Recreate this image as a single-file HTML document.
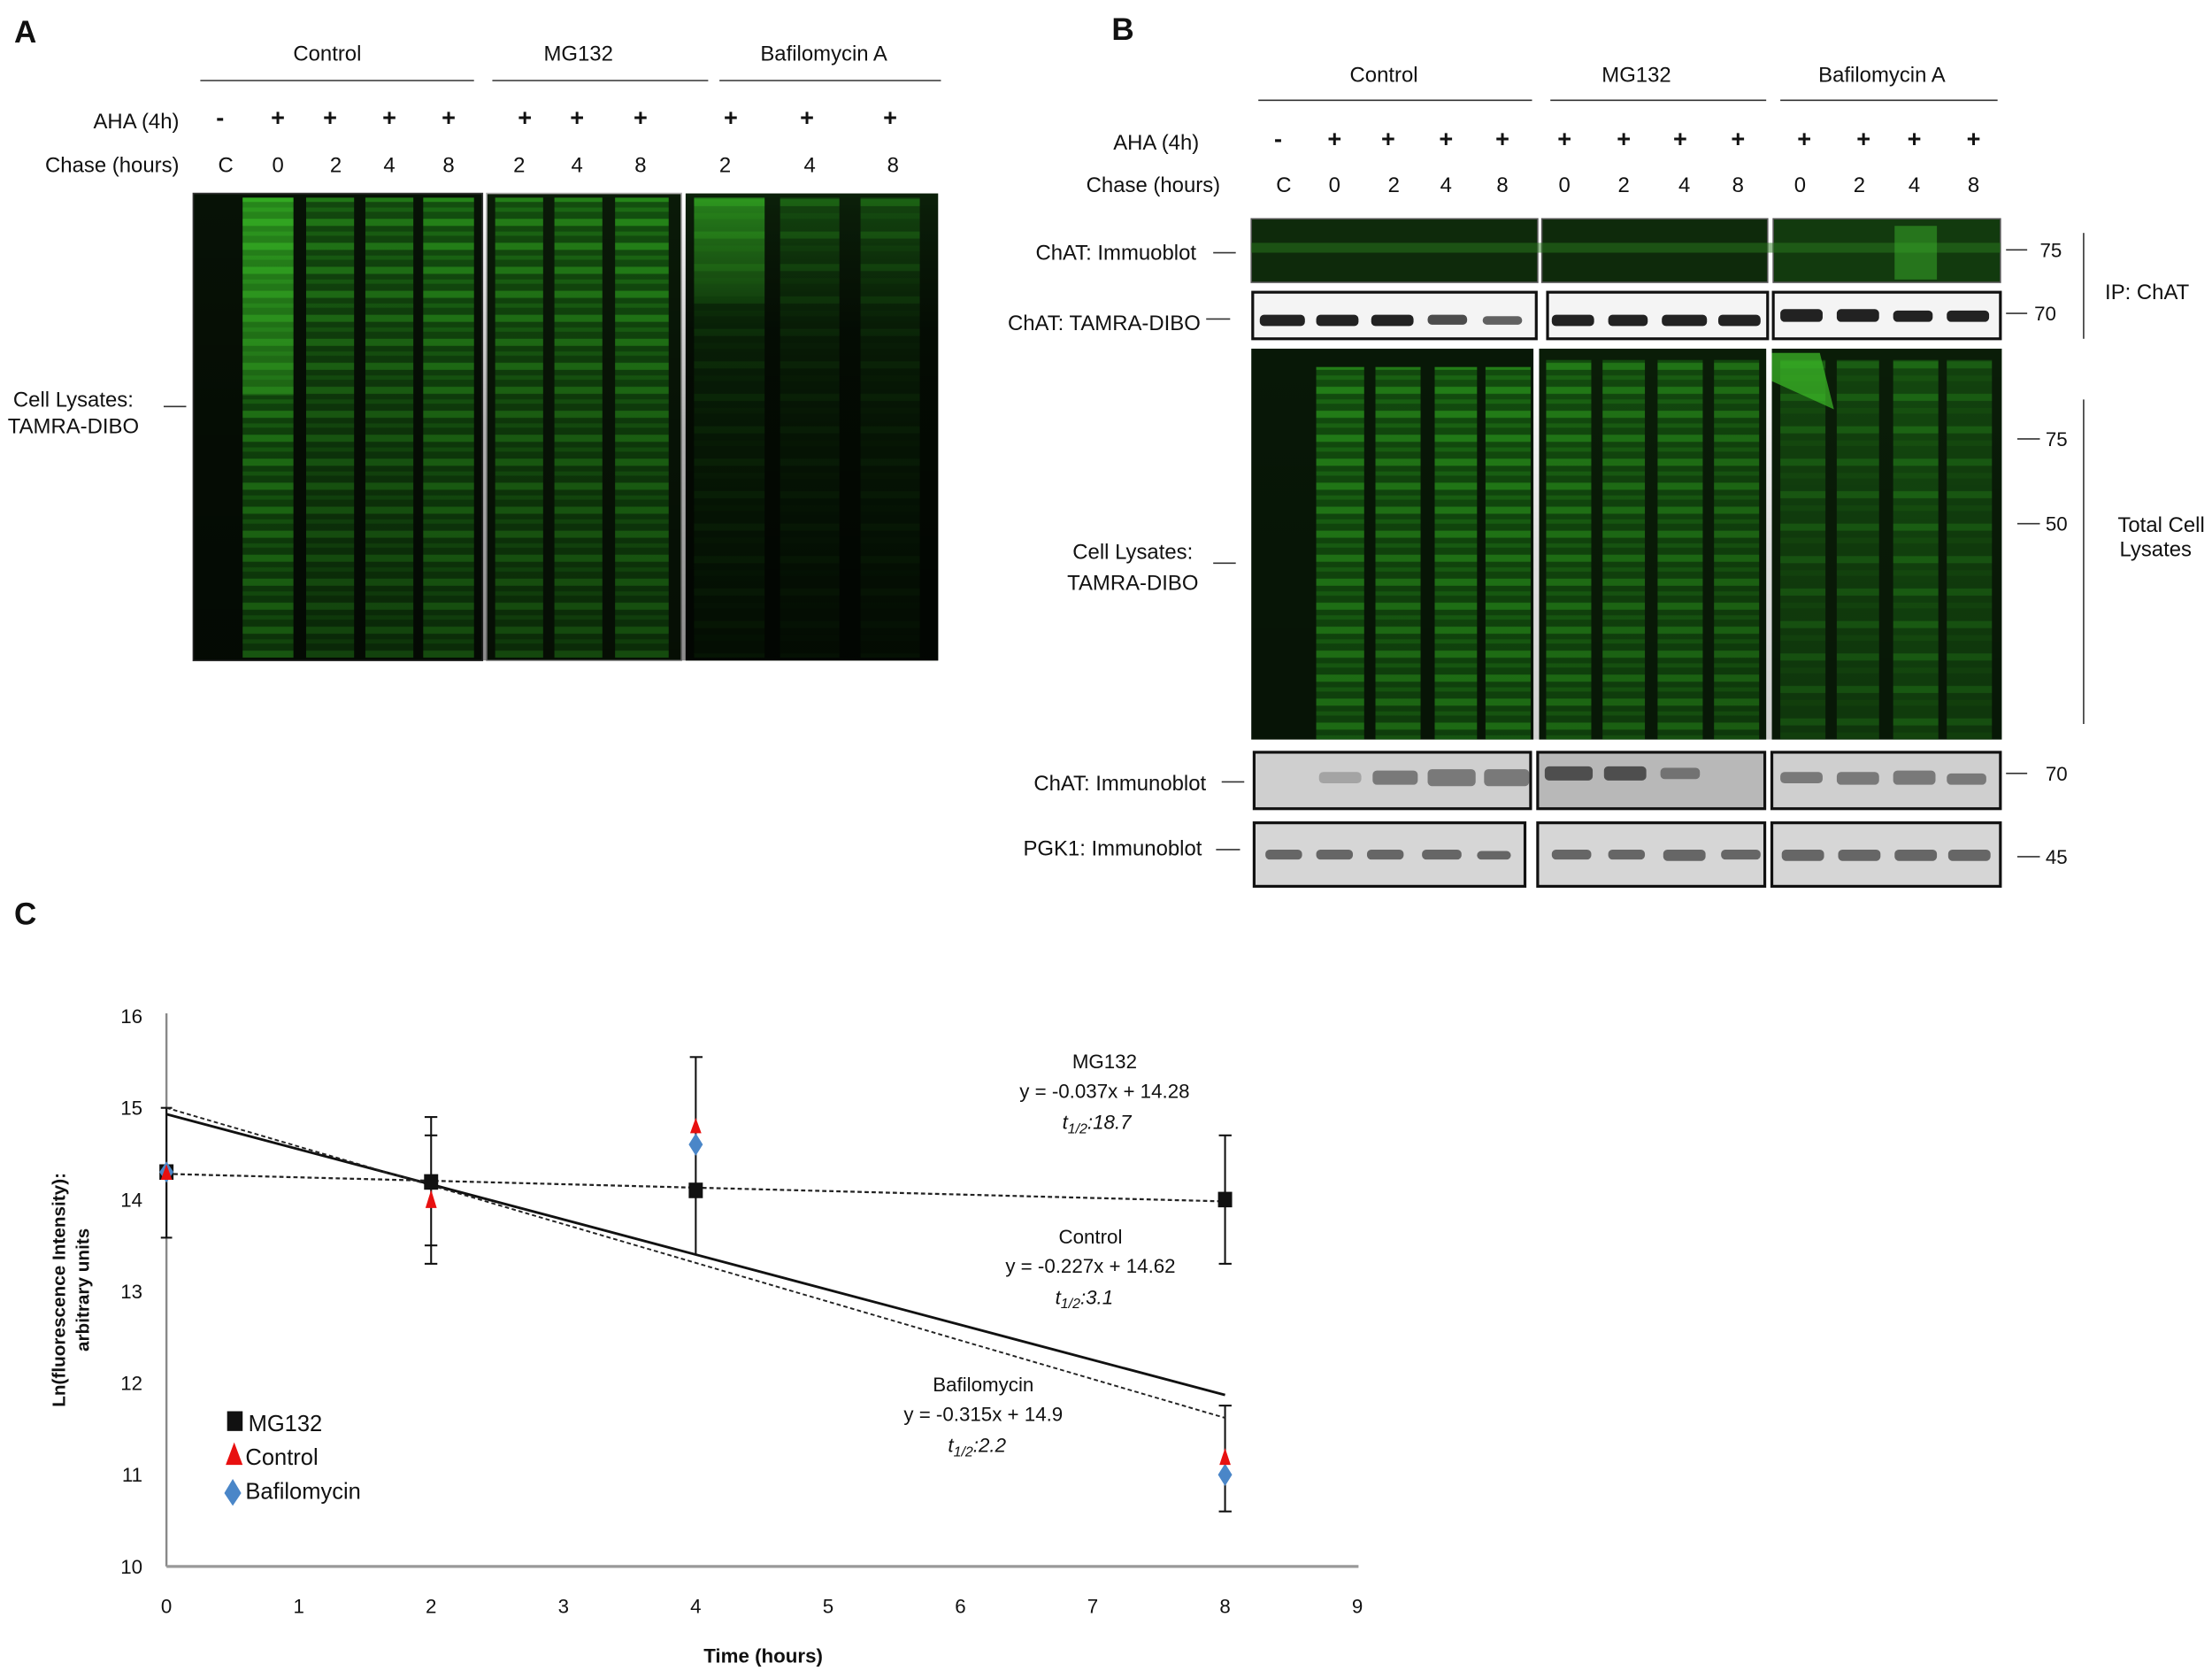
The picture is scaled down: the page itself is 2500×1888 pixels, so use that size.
<!DOCTYPE html>
<html><head><meta charset="utf-8"><style>
html,body{margin:0;padding:0;background:#fff;}
svg{display:block;}
text{font-family:"Liberation Sans",Arial,sans-serif;fill:#111;}
.c{font-family:"Liberation Sans Narrow","Liberation Sans",sans-serif;}
</style></head><body>
<svg width="2500" height="1888" viewBox="0 0 1568 1184" xmlns="http://www.w3.org/2000/svg">
<defs>
<pattern id="bd" patternUnits="userSpaceOnUse" width="10" height="17">
<rect width="10" height="17" fill="#155a10"/>
<rect y="2" width="10" height="5" fill="#2a9a1c"/>
<rect y="11" width="10" height="3" fill="#1f7a16"/>
</pattern>
<pattern id="bd2" patternUnits="userSpaceOnUse" width="10" height="23">
<rect width="10" height="23" fill="#175a12"/>
<rect y="3" width="10" height="5" fill="#258a1a"/>
<rect y="13" width="10" height="4" fill="#1c6a14"/>
</pattern>
<linearGradient id="fadeA" x1="0" y1="0" x2="0" y2="1">
<stop offset="0" stop-color="#000" stop-opacity="0"/>
<stop offset="0.5" stop-color="#000" stop-opacity="0.3"/>
<stop offset="1" stop-color="#000" stop-opacity="0.45"/>
</linearGradient>
<linearGradient id="fadeB" x1="0" y1="0" x2="0" y2="1">
<stop offset="0" stop-color="#000" stop-opacity="0"/>
<stop offset="0.3" stop-color="#000" stop-opacity="0.55"/>
<stop offset="1" stop-color="#000" stop-opacity="0.7"/>
</linearGradient>
</defs>

<!-- Panel A -->
<text x="10" y="30" font-size="22" font-weight="bold">A</text>
<g font-size="15" text-anchor="middle">
<text x="232" y="43">Control</text><text x="410" y="43">MG132</text><text x="584" y="43">Bafilomycin A</text>
</g>
<g stroke="#333" stroke-width="1"><line x1="142" y1="57" x2="336" y2="57"/><line x1="349" y1="57" x2="502" y2="57"/><line x1="510" y1="57" x2="667" y2="57"/></g>
<text x="127" y="91" font-size="15" text-anchor="end">AHA (4h)</text>
<text x="127" y="122" font-size="15" text-anchor="end">Chase (hours)</text>
<g font-size="17" font-weight="bold" text-anchor="middle">
<text x="156" y="89">-</text><text x="197" y="89">+</text><text x="234" y="89">+</text><text x="276" y="89">+</text><text x="318" y="89">+</text>
<text x="372" y="89">+</text><text x="409" y="89">+</text><text x="454" y="89">+</text>
<text x="518" y="89">+</text><text x="572" y="89">+</text><text x="631" y="89">+</text>
</g>
<g font-size="15" text-anchor="middle">
<text x="160" y="122">C</text><text x="197" y="122">0</text><text x="238" y="122">2</text><text x="276" y="122">4</text><text x="318" y="122">8</text>
<text x="368" y="122">2</text><text x="409" y="122">4</text><text x="454" y="122">8</text>
<text x="514" y="122">2</text><text x="574" y="122">4</text><text x="633" y="122">8</text>
</g>
<text x="52" y="288" font-size="15" text-anchor="middle">Cell Lysates:</text>
<text x="52" y="307" font-size="15" text-anchor="middle">TAMRA-DIBO</text>
<line x1="116" y1="288" x2="132" y2="288" stroke="#333"/>
<rect x="137" y="137" width="205" height="331" fill="#071206" stroke="#333"/>
<rect x="345" y="137" width="138" height="331" fill="#0a1a08" stroke="#aaa"/>
<rect x="486" y="137" width="179" height="331" fill="#0b2009"/>
<g>
<rect x="172" y="140" width="36" height="326" fill="url(#bd)"/>
<rect x="172" y="140" width="36" height="140" fill="#3ec02a" opacity="0.45"/>
<rect x="217" y="140" width="34" height="326" fill="url(#bd)" opacity="0.75"/>
<rect x="259" y="140" width="34" height="326" fill="url(#bd)" opacity="0.75"/>
<rect x="300" y="140" width="36" height="326" fill="url(#bd)" opacity="0.85"/>
<rect x="351" y="140" width="34" height="326" fill="url(#bd)" opacity="0.8"/>
<rect x="393" y="140" width="34" height="326" fill="url(#bd)" opacity="0.8"/>
<rect x="436" y="140" width="38" height="326" fill="url(#bd)" opacity="0.85"/>
<rect x="492" y="140" width="50" height="326" fill="url(#bd2)" opacity="0.85"/>
<rect x="492" y="140" width="50" height="70" fill="#3ec02a" opacity="0.45"/>
<rect x="553" y="140" width="42" height="326" fill="url(#bd2)" opacity="0.65"/>
<rect x="610" y="140" width="42" height="326" fill="url(#bd2)" opacity="0.65"/>
<rect x="137" y="137" width="528" height="331" fill="url(#fadeA)"/>
<rect x="486" y="137" width="179" height="331" fill="url(#fadeB)"/>
</g>

<!-- Panel B -->
<text x="788" y="28" font-size="22" font-weight="bold">B</text>
<g font-size="15" text-anchor="middle">
<text x="981" y="58">Control</text><text x="1160" y="58">MG132</text><text x="1334" y="58">Bafilomycin A</text>
</g>
<g stroke="#333"><line x1="892" y1="71" x2="1086" y2="71"/><line x1="1099" y1="71" x2="1252" y2="71"/><line x1="1262" y1="71" x2="1416" y2="71"/></g>
<text x="850" y="106" font-size="15" text-anchor="end">AHA (4h)</text>
<text x="865" y="136" font-size="15" text-anchor="end">Chase (hours)</text>
<g font-size="17" font-weight="bold" text-anchor="middle">
<text x="906" y="104">-</text><text x="946" y="104">+</text><text x="984" y="104">+</text><text x="1025" y="104">+</text><text x="1065" y="104">+</text>
<text x="1109" y="104">+</text><text x="1151" y="104">+</text><text x="1191" y="104">+</text><text x="1232" y="104">+</text>
<text x="1279" y="104">+</text><text x="1321" y="104">+</text><text x="1357" y="104">+</text><text x="1399" y="104">+</text>
</g>
<g font-size="15" text-anchor="middle">
<text x="910" y="136">C</text><text x="946" y="136">0</text><text x="988" y="136">2</text><text x="1025" y="136">4</text><text x="1065" y="136">8</text>
<text x="1109" y="136">0</text><text x="1151" y="136">2</text><text x="1194" y="136">4</text><text x="1232" y="136">8</text>
<text x="1276" y="136">0</text><text x="1318" y="136">2</text><text x="1357" y="136">4</text><text x="1399" y="136">8</text>
</g>
<g font-size="15" text-anchor="end">
<text x="848" y="184">ChAT: Immuoblot</text>
<text x="851" y="234">ChAT: TAMRA-DIBO</text>
<text x="855" y="560">ChAT: Immunoblot</text>
<text x="852" y="606">PGK1: Immunoblot</text>
</g>
<text x="803" y="396" font-size="15" text-anchor="middle">Cell Lysates:</text>
<text x="803" y="418" font-size="15" text-anchor="middle">TAMRA-DIBO</text>
<g stroke="#333"><line x1="860" y1="179" x2="876" y2="179"/><line x1="855" y1="226" x2="872" y2="226"/><line x1="860" y1="399" x2="876" y2="399"/><line x1="866" y1="554" x2="882" y2="554"/><line x1="862" y1="602" x2="879" y2="602"/></g>
<rect x="887" y="155" width="203" height="45" fill="#0e2a0b" stroke="#555"/>
<rect x="1093" y="155" width="160" height="45" fill="#0e2a0b" stroke="#555"/>
<rect x="1257" y="155" width="161" height="45" fill="#123a0e" stroke="#555"/>
<rect x="887" y="172" width="531" height="7" fill="#2a7a1e" opacity="0.5"/>
<rect x="1343" y="160" width="30" height="38" fill="#3ab02a" opacity="0.5"/>
<g stroke="#111" stroke-width="2" fill="#f4f4f4">
<rect x="888" y="207" width="201" height="33"/><rect x="1097" y="207" width="156" height="33"/><rect x="1257" y="207" width="161" height="33"/></g>
<g fill="#222">
<rect x="893" y="223" width="32" height="8" rx="3"/><rect x="933" y="223" width="30" height="8" rx="3"/><rect x="972" y="223" width="30" height="8" rx="3"/><rect x="1012" y="223" width="28" height="7" rx="3" opacity="0.8"/><rect x="1051" y="224" width="28" height="6" rx="3" opacity="0.7"/>
<rect x="1100" y="223" width="30" height="8" rx="3"/><rect x="1140" y="223" width="28" height="8" rx="3"/><rect x="1178" y="223" width="32" height="8" rx="3"/><rect x="1218" y="223" width="30" height="8" rx="3"/>
<rect x="1262" y="219" width="30" height="9" rx="3"/><rect x="1302" y="219" width="30" height="9" rx="3"/><rect x="1342" y="220" width="28" height="8" rx="3"/><rect x="1380" y="220" width="30" height="8" rx="3"/>
</g>
<rect x="887" y="247" width="200" height="277" fill="#081807"/>
<rect x="1091" y="247" width="161" height="277" fill="#0a1d08"/>
<rect x="1256" y="247" width="163" height="277" fill="#0a1d08"/>
<g>
<rect x="933" y="260" width="34" height="264" fill="url(#bd)" opacity="0.8"/>
<rect x="975" y="260" width="32" height="264" fill="url(#bd)" opacity="0.75"/>
<rect x="1017" y="260" width="30" height="264" fill="url(#bd)" opacity="0.8"/>
<rect x="1053" y="260" width="32" height="264" fill="url(#bd)" opacity="0.8"/>
<rect x="1096" y="255" width="32" height="269" fill="url(#bd)" opacity="0.75"/>
<rect x="1136" y="255" width="30" height="269" fill="url(#bd)" opacity="0.7"/>
<rect x="1175" y="255" width="32" height="269" fill="url(#bd)" opacity="0.7"/>
<rect x="1215" y="255" width="32" height="269" fill="url(#bd)" opacity="0.65"/>
<rect x="1262" y="255" width="32" height="269" fill="url(#bd2)" opacity="0.6"/>
<rect x="1302" y="255" width="30" height="269" fill="url(#bd2)" opacity="0.6"/>
<rect x="1342" y="255" width="32" height="269" fill="url(#bd2)" opacity="0.7"/>
<rect x="1380" y="255" width="32" height="269" fill="url(#bd2)" opacity="0.6"/>
<polygon points="1256,250 1290,250 1300,290 1256,270" fill="#3ec02a" opacity="0.7"/>
<rect x="887" y="247" width="532" height="277" fill="url(#fadeA)" opacity="0.4"/>
</g>
<g stroke="#111" stroke-width="2" fill="#cfcfcf">
<rect x="889" y="533" width="196" height="40"/><rect x="1090" y="533" width="161" height="40" fill="#b8b8b8"/><rect x="1256" y="533" width="162" height="40"/>
<rect x="889" y="583" width="192" height="45" fill="#d6d6d6"/><rect x="1090" y="583" width="161" height="45" fill="#d6d6d6"/><rect x="1256" y="583" width="162" height="45" fill="#d6d6d6"/>
</g>
<g fill="#555" opacity="0.7">
<rect x="935" y="547" width="30" height="8" rx="3" opacity="0.5"/><rect x="973" y="546" width="32" height="10" rx="3"/><rect x="1012" y="545" width="34" height="12" rx="3"/><rect x="1052" y="545" width="32" height="12" rx="3"/>
<rect x="1095" y="543" width="34" height="10" rx="3" fill="#222"/><rect x="1137" y="543" width="30" height="10" rx="3" fill="#222"/><rect x="1177" y="544" width="28" height="8" rx="3"/>
<rect x="1262" y="547" width="30" height="8" rx="3"/><rect x="1302" y="547" width="30" height="9" rx="3"/><rect x="1342" y="546" width="30" height="10" rx="3"/><rect x="1380" y="548" width="28" height="8" rx="3"/>
</g>
<g fill="#666">
<rect x="897" y="602" width="26" height="7" rx="3"/><rect x="933" y="602" width="26" height="7" rx="3"/><rect x="969" y="602" width="26" height="7" rx="3"/><rect x="1008" y="602" width="28" height="7" rx="3"/><rect x="1047" y="603" width="24" height="6" rx="3"/>
<rect x="1100" y="602" width="28" height="7" rx="3"/><rect x="1140" y="602" width="26" height="7" rx="3"/><rect x="1179" y="602" width="30" height="8" rx="3"/><rect x="1220" y="602" width="28" height="7" rx="3"/>
<rect x="1263" y="602" width="30" height="8" rx="3"/><rect x="1303" y="602" width="30" height="8" rx="3"/><rect x="1343" y="602" width="30" height="8" rx="3"/><rect x="1381" y="602" width="30" height="8" rx="3"/>
</g>
<g stroke="#333"><line x1="1422" y1="177" x2="1437" y2="177"/><line x1="1422" y1="222" x2="1437" y2="222"/><line x1="1430" y1="311" x2="1446" y2="311"/><line x1="1430" y1="371" x2="1446" y2="371"/><line x1="1422" y1="548" x2="1437" y2="548"/><line x1="1430" y1="607" x2="1446" y2="607"/>
<line x1="1477" y1="165" x2="1477" y2="240"/><line x1="1477" y1="283" x2="1477" y2="513"/></g>
<g font-size="14">
<text x="1446" y="182">75</text><text x="1442" y="227">70</text><text x="1450" y="316">75</text><text x="1450" y="376">50</text><text x="1450" y="553">70</text><text x="1450" y="612">45</text>
</g>
<g font-size="15" text-anchor="middle"><text x="1522" y="212">IP: ChAT</text><text x="1532" y="377">Total Cell</text><text x="1528" y="394">Lysates</text></g>

<!-- Panel C -->
<text x="10" y="655" font-size="22" font-weight="bold">C</text>
<line x1="118" y1="718" x2="118" y2="1110" stroke="#888" stroke-width="1.5"/>
<line x1="118" y1="1110" x2="963" y2="1110" stroke="#999" stroke-width="2"/>
<g class="c" font-size="14" text-anchor="end">
<text x="101" y="725">16</text><text x="101" y="790">15</text><text x="101" y="855">14</text><text x="101" y="920">13</text><text x="101" y="985">12</text><text x="101" y="1050">11</text><text x="101" y="1115">10</text>
</g>
<g class="c" font-size="14" text-anchor="middle">
<text x="118" y="1143">0</text><text x="211.8" y="1143">1</text><text x="305.6" y="1143">2</text><text x="399.4" y="1143">3</text><text x="493.2" y="1143">4</text><text x="587" y="1143">5</text><text x="680.8" y="1143">6</text><text x="774.6" y="1143">7</text><text x="868.4" y="1143">8</text><text x="962.2" y="1143">9</text>
</g>
<text x="541" y="1178" font-size="14" font-weight="bold" text-anchor="middle" class="c">Time (hours)</text>
<g transform="translate(46,914) rotate(-90)" font-size="13" font-weight="bold" text-anchor="middle"><text x="0" y="0">Ln(fluorescence Intensity):</text><text x="0" y="17">arbitrary units</text></g>
<g stroke="#111" stroke-width="1.3">
<line x1="118" y1="785" x2="118" y2="877"/><line x1="114" y1="785" x2="122" y2="785"/><line x1="114" y1="877" x2="122" y2="877"/>
<line x1="305.6" y1="791.5" x2="305.6" y2="895.5"/><line x1="301" y1="791.5" x2="310" y2="791.5"/><line x1="301" y1="895.5" x2="310" y2="895.5"/><line x1="301" y1="804.5" x2="310" y2="804.5"/><line x1="301" y1="882.5" x2="310" y2="882.5"/>
<line x1="493.2" y1="749" x2="493.2" y2="889"/><line x1="489" y1="749" x2="498" y2="749"/>
<line x1="868.4" y1="804.5" x2="868.4" y2="895.5"/><line x1="864" y1="804.5" x2="873" y2="804.5"/><line x1="864" y1="895.5" x2="873" y2="895.5"/>
<line x1="868.4" y1="996" x2="868.4" y2="1071"/><line x1="864" y1="996" x2="873" y2="996"/><line x1="864" y1="1071" x2="873" y2="1071"/>
</g>
<line x1="118" y1="789.5" x2="868.4" y2="988.5" stroke="#111" stroke-width="1.8"/>
<line x1="118" y1="785" x2="868.4" y2="1004.7" stroke="#222" stroke-width="1.2" stroke-dasharray="3,2"/>
<line x1="118" y1="831.8" x2="868.4" y2="851.3" stroke="#222" stroke-width="1.4" stroke-dasharray="3,2"/>
<g fill="#111">
<rect x="113" y="825" width="10" height="11"/><rect x="300.6" y="832" width="10" height="11"/><rect x="488.2" y="838" width="10" height="11"/><rect x="863.4" y="844.5" width="10" height="11"/>
</g>
<g fill="#4a86c8">
<polygon points="118,823 123,830.5 118,838 113,830.5"/><polygon points="493.2,803 498.2,811 493.2,819 488.2,811"/><polygon points="868.4,1037 873.4,1045 868.4,1053 863.4,1045"/>
</g>
<g fill="#e81010">
<polygon points="118,825 122,836 114,836"/><polygon points="305.6,843 309.6,856 301.6,856"/><polygon points="493.2,792 497.2,803 489.2,803"/><polygon points="868.4,1026 872.4,1038 864.4,1038"/>
</g>
<g class="c" font-size="14" text-anchor="middle">
<text x="783" y="757">MG132</text><text x="783" y="778">y = -0.037x + 14.28</text>
<text x="773" y="881">Control</text><text x="773" y="902">y = -0.227x + 14.62</text>
<text x="697" y="986">Bafilomycin</text><text x="697" y="1007">y = -0.315x + 14.9</text>
</g>
<g class="c" font-size="14" font-style="italic">
<text x="753" y="800">t<tspan font-size="10" dy="3">1/2</tspan><tspan dy="-3">:18.7</tspan></text>
<text x="748" y="924">t<tspan font-size="10" dy="3">1/2</tspan><tspan dy="-3">:3.1</tspan></text>
<text x="672" y="1029">t<tspan font-size="10" dy="3">1/2</tspan><tspan dy="-3">:2.2</tspan></text>
</g>
<rect x="161" y="1000" width="11" height="14" fill="#111"/>
<polygon points="166,1022 172,1038 160,1038" fill="#e81010"/>
<polygon points="165,1048 171,1058 165,1067 159,1058" fill="#4a86c8"/>
<g class="c" font-size="16"><text x="176" y="1014">MG132</text><text x="174" y="1038">Control</text><text x="174" y="1062">Bafilomycin</text></g>
</svg>
</body></html>
